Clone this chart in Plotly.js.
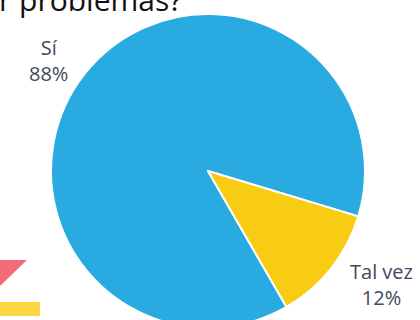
<!DOCTYPE html>
<html>
<head>
<meta charset="utf-8">
<script src="https://cdn.plot.ly/plotly-3.0.1.min.js"></script>
<style>
html,body{margin:0;padding:0;overflow:hidden;background:#fff;width:420px;height:320px;}
#chart{width:420px;height:340px;}
</style>
</head>
<body>
<div id="chart"></div>
<script>
const categories = ["Sí", "Tal vez"];
const values = [88, 12];
const sliceColors = ["#29abe2", "#f9cc14"];
const titleText = "r problemas?";

const W = 420, H = 340;
const px = (x) => x / W;
const py = (y) => 1 - y / H;

const labelPos = [
  {x: 48, y: 60},
  {x: 381, y: 284}
];

const total = values.reduce((a, b) => a + b, 0);
const annotations = categories.map((c, i) => ({
  xref: 'paper', yref: 'paper',
  x: px(labelPos[i].x), y: py(labelPos[i].y),
  xanchor: 'center', yanchor: 'middle',
  text: c + '<br>' + Math.round(values[i] / total * 100) + '%',
  showarrow: false,
  font: {family: 'Open Sans, sans-serif', size: 20, color: '#3d4b5c'},
  align: 'center'
}));
annotations.push({
  xref: 'paper', yref: 'paper',
  x: px(-3), y: py(22),
  xanchor: 'left', yanchor: 'bottom',
  text: titleText,
  showarrow: false,
  font: {family: 'Open Sans, sans-serif', size: 30, color: '#111111'}
});

const data = [{
  type: 'pie',
  labels: categories,
  values: values,
  sort: false,
  direction: 'clockwise',
  rotation: 150,
  marker: {colors: sliceColors, line: {color: '#ffffff', width: 2}},
  textinfo: 'none',
  hoverinfo: 'none',
  showlegend: false,
  domain: {x: [px(51), px(365)], y: [py(328), py(14)]}
}];

const layout = {
  width: W, height: H,
  margin: {l: 0, r: 0, t: 0, b: 0},
  paper_bgcolor: '#ffffff',
  showlegend: false,
  annotations: annotations,
  shapes: [
    {type: 'path', xref: 'paper', yref: 'paper',
     path: `M ${px(-2)} ${py(260)} L ${px(27)} ${py(260)} L ${px(-2)} ${py(288)} Z`,
     fillcolor: '#f26b78', line: {width: 0}},
    {type: 'rect', xref: 'paper', yref: 'paper',
     x0: px(-2), x1: px(40), y0: py(316), y1: py(302),
     fillcolor: '#fcd641', line: {width: 0}}
  ]
};

Plotly.newPlot('chart', data, layout, {displayModeBar: false, staticPlot: true});
</script>
</body>
</html>
